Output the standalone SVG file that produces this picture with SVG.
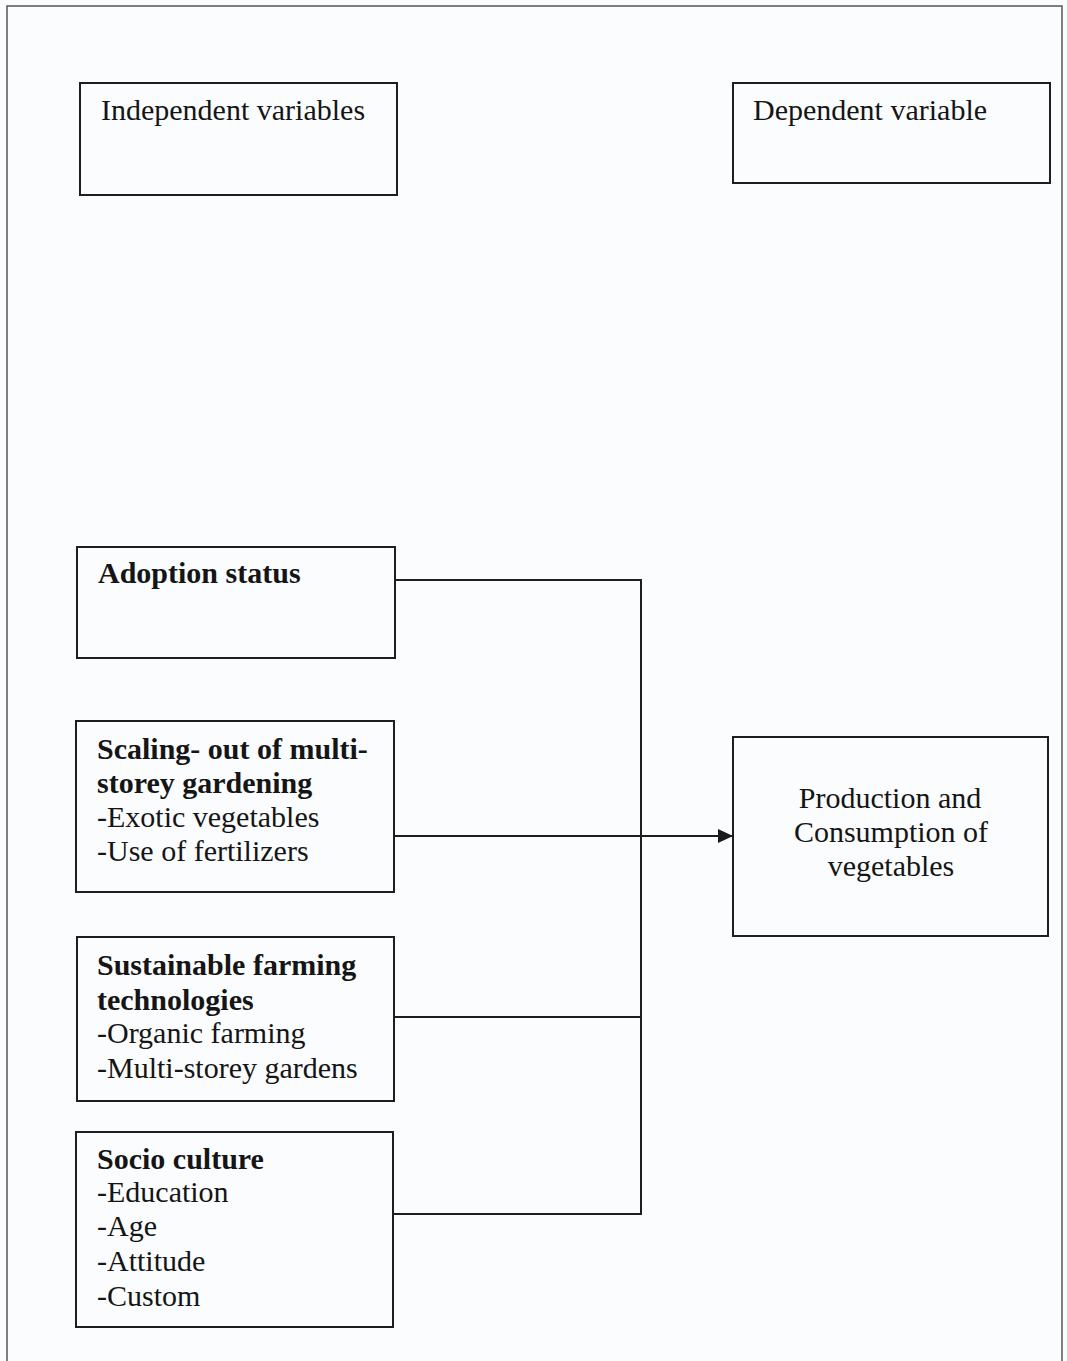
<svg xmlns="http://www.w3.org/2000/svg" width="1067" height="1361" viewBox="0 0 1067 1361">
<defs>
<style>
.box{fill:none;stroke:#1e1e1e;stroke-width:2}
.frame{fill:none;stroke:#555;stroke-width:1.5}
.conn{fill:none;stroke:#1e1e1e;stroke-width:2}
text{font-family:"Liberation Serif","Times New Roman",serif;font-size:30px;fill:#151515}
.b{font-weight:bold}
.c{text-anchor:middle}
</style>
<marker id="arr" viewBox="0 0 15 14" refX="15" refY="7" markerWidth="15" markerHeight="14" markerUnits="userSpaceOnUse" orient="auto">
<path d="M0,0 L15,7 L0,14 Z" fill="#1a1a1a"/>
</marker>
</defs>
<rect width="1067" height="1361" fill="#fbfcfd"/>
<path class="frame" d="M7,1361 V6 H1062 V1361"/>
<g id="independent">
<rect class="box" x="80" y="83" width="317" height="112"/>
<text x="101" y="120">Independent variables</text>
</g>
<g id="dependent">
<rect class="box" x="733" y="83" width="317" height="100"/>
<text x="753" y="120">Dependent variable</text>
</g>
<g id="adoption">
<rect class="box" x="77" y="547" width="318" height="111"/>
<text class="b" x="98" y="583">Adoption status</text>
</g>
<g id="scaling">
<rect class="box" x="76" y="721" width="318" height="171"/>
<text class="b" x="97" y="759">Scaling- out of multi-</text>
<text class="b" x="97" y="793">storey gardening</text>
<text x="97" y="827">-Exotic vegetables</text>
<text x="97" y="861">-Use of fertilizers</text>
</g>
<g id="sustainable">
<rect class="box" x="77" y="937" width="317" height="164"/>
<text class="b" x="97" y="975">Sustainable farming</text>
<text class="b" x="97" y="1010">technologies</text>
<text x="97" y="1043">-Organic farming</text>
<text x="97" y="1078">-Multi-storey gardens</text>
</g>
<g id="socio">
<rect class="box" x="76" y="1132" width="317" height="195"/>
<text class="b" x="97" y="1169">Socio culture</text>
<text x="97" y="1202">-Education</text>
<text x="97" y="1236">-Age</text>
<text x="97" y="1271">-Attitude</text>
<text x="97" y="1306">-Custom</text>
</g>
<g id="production">
<rect class="box" x="733" y="737" width="315" height="199"/>
<text class="c" x="890" y="808">Production and</text>
<text class="c" x="891" y="842">Consumption of</text>
<text class="c" x="891" y="876">vegetables</text>
</g>
<g id="connectors">
<path class="conn" d="M395,580 H641 V1214 H393"/>
<path class="conn" d="M394,1017 H641"/>
<path class="conn" d="M394,836 H733" marker-end="url(#arr)"/>
</g>
</svg>
